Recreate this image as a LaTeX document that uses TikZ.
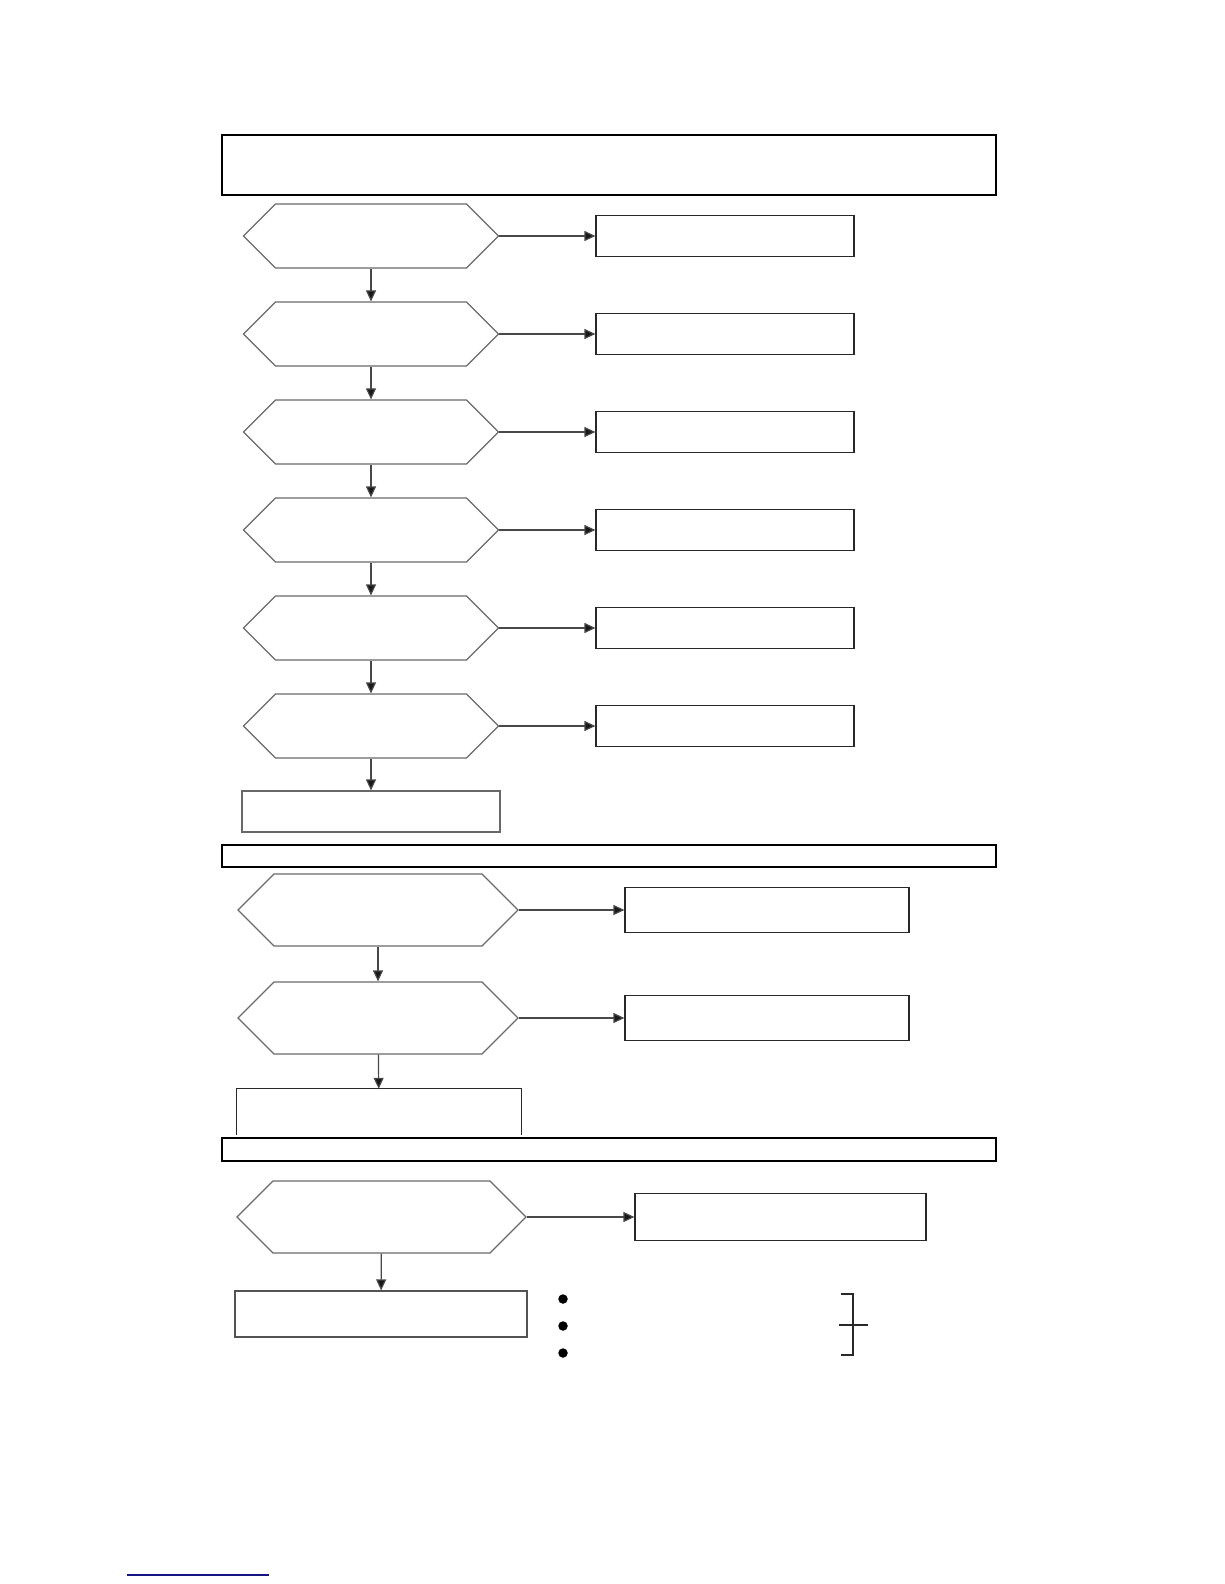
\documentclass[tikz,border=0pt]{standalone}
\usetikzlibrary{arrows.meta,shapes.symbols,positioning}
\definecolor{hexgray}{RGB}{105,105,105}
\definecolor{boxgray}{RGB}{40,40,40}
\definecolor{linkblue}{RGB}{20,20,130}

\begin{document}
\begin{tikzpicture}[x=1pt,y=-1pt,
  hexa/.style={signal, signal to=east and west, signal pointer angle=90, draw=hexgray, line width=1.2pt, inner sep=0pt},
  stepbox/.style={rectangle, draw=boxgray, line width=1.2pt, inner sep=0pt},
  headbox/.style={rectangle, draw=black, line width=2pt, inner sep=0pt, minimum width=774pt},
  flow/.style={-{Triangle[length=11pt,width=10pt,fill=black!90]}, draw=boxgray!85, line width=1.2pt},
  dot/.style={circle, fill=black, inner sep=0pt, minimum size=9.5pt}]
  \useasboundingbox (0,0) rectangle (1224,1584);

  % Part 1: six checks in a column
  \def\hw{255pt}
  \def\hh{64pt}
  \node[headbox, minimum height=60pt] (head1) at (609,165) {};
  \foreach \i in {1,...,6} {
    \pgfmathsetmacro{\yy}{236+98*(\i-1)}
    \node[hexa, minimum width=\hw, minimum height=\hh] (q\i) at (371,\yy) {};
    \node[stepbox, minimum width=258pt, minimum height=41pt] (a\i) at (725,\yy) {};
    \draw[flow] (q\i) -- (a\i);
  }
  \foreach \i [count=\j from 2] in {1,...,5}
    \draw[flow] (q\i) -- (q\j);
  \node[stepbox, draw=boxgray!70, minimum width=258pt, minimum height=41pt] (r1) at (371,811.5) {};
  \draw[flow] (q6) -- (r1);

  % Part 2: two checks
  \node[headbox, minimum height=22pt] (head2) at (609,856) {};
  \node[hexa, minimum width=280pt, minimum height=72pt] (q7) at (378,910) {};
  \node[hexa, minimum width=280pt, minimum height=72pt] (q8) at (378,1018) {};
  \node[stepbox, minimum width=284pt, minimum height=45pt] (a7) at (767,910) {};
  \node[stepbox, minimum width=284pt, minimum height=45pt] (a8) at (767,1018) {};
  \draw[flow] (q7) -- (a7);
  \draw[flow] (q8) -- (a8);
  \draw[flow] (q7) -- (q8);
  % box left open at the bottom
  \node[minimum width=284pt, minimum height=46pt, inner sep=0pt] (r2) at (379,1112) {};
  \draw[boxgray, line width=1.2pt] (r2.south west) -- (r2.north west) -- (r2.north east) -- (r2.south east);
  \draw[flow] (q8) -- (r2);

  % Part 3: last check and notes
  \node[headbox, minimum height=23pt] (head3) at (609,1149) {};
  \node[hexa, minimum width=289pt, minimum height=72pt] (q9) at (381.5,1217) {};
  \node[stepbox, minimum width=291pt, minimum height=47pt] (a9) at (780.5,1217) {};
  \node[stepbox, draw=boxgray!80, minimum width=292pt, minimum height=46pt] (r3) at (381,1314) {};
  \draw[flow] (q9) -- (a9);
  \draw[flow] (q9) -- (r3);
  \foreach \i in {0,1,2}
    \node[dot] (d\i) at (563,{1299+27*\i}) {};
  % bracket
  \draw[boxgray, line width=1.2pt] (841,1294) -- (853,1294) -- (853,1355) -- (841,1355);
  \draw[boxgray, line width=1.2pt] (839,1325) -- (868,1325);

  % link line at the foot
  \draw[linkblue, line width=1.5pt] (127,1575) -- (269,1575);
\end{tikzpicture}
\end{document}
